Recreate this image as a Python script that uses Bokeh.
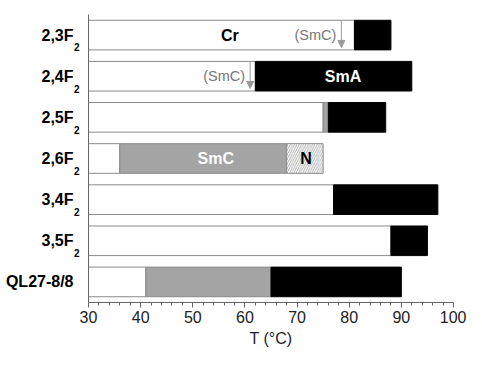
from bokeh.plotting import figure
from bokeh.models import Range1d, FixedTicker, Label, Arrow, NormalHead, LinearAxis, CustomJSTickFormatter
from bokeh.embed import file_html
from bokeh.resources import INLINE

# ---- data ----
compound_base = ["2,3F", "2,4F", "2,5F", "2,6F", "3,4F", "3,5F", "QL27-8/8"]
compound_sub = ["2", "2", "2", "2", "2", "2", ""]
rows = list(range(len(compound_base)))
t_start = 30
melt_T = [81, 62, 75, 36, 77, 88, 41]          # Cr -> next phase
smc_rows = [2, 3, 6]
smc_start = [75, 36, 41]
smc_end = [76, 68, 65]
sma_rows = [0, 1, 2, 4, 5, 6]
sma_start = [81, 62, 76, 77, 88, 65]
sma_end = [88, 92, 87, 97, 95, 90]
n_rows = [3]
n_start = [68]
n_end = [75]
mono_rows = [0, 1]                              # monotropic SmC (arrows)
mono_T = [78.5, 61]
x_ticks = [30, 40, 50, 60, 70, 80, 90, 100]
x_minor = list(range(30, 101, 2))

FONT = "Liberation Sans"
EDGE = "#8a8a8a"
AX = "#666666"
BAR_H = 0.72
SUB_SHIFT = 0.3

p = figure(width=466, height=349, x_range=Range1d(30, 100), y_range=Range1d(6.5, -0.5),
           output_backend="svg", toolbar_location=None,
           min_border_left=88, min_border_right=13, min_border_top=14, min_border_bottom=0)
p.outline_line_color = None
p.xgrid.visible = False
p.ygrid.visible = False
p.background_fill_color = "white"

# bars
p.hbar(y=rows, left=[t_start] * len(rows), right=melt_T, height=BAR_H,
       fill_color="white", line_color=EDGE, line_width=1)
p.hbar(y=smc_rows, left=smc_start, right=smc_end, height=BAR_H,
       fill_color="#a4a4a4", line_color=EDGE, line_width=1)
p.hbar(y=sma_rows, left=sma_start, right=sma_end, height=BAR_H,
       fill_color="black", line_color="black", line_width=1)
p.hbar(y=n_rows, left=n_start, right=n_end, height=BAR_H,
       fill_color="white", line_color=EDGE, line_width=1,
       hatch_pattern="/", hatch_color="#9a9a9a", hatch_scale=4.5, hatch_weight=0.8)

# monotropic SmC arrows + labels
for r, t in zip(mono_rows, mono_T):
    p.add_layout(Arrow(x_start=t, y_start=r - BAR_H / 2, x_end=t, y_end=r + 0.3,
                       line_color="#9a9a9a", line_width=1,
                       end=NormalHead(size=7, fill_color="#9a9a9a", line_color="#9a9a9a")))
    p.add_layout(Label(x=t, y=r, x_offset=-5, text="(SmC)", text_align="right",
                       text_baseline="middle", text_font=FONT, text_font_size="14.5px",
                       text_color="#777777"))

# phase names
phase_labels = [("Cr", 57.1, 0, "black"), ("SmA", 78.8, 1, "white"),
                ("SmC", 54.4, 3, "white"), ("N", 71.7, 3, "black")]
for txt, x, r, c in phase_labels:
    p.add_layout(Label(x=x, y=r, text=txt, text_align="center", text_baseline="middle",
                       text_font=FONT, text_font_size="16px", text_font_style="bold",
                       text_color=c))

# inner left axis: subscripts (placed slightly below each row centre)
sub_ticks = [r + SUB_SHIFT for r, s in zip(rows, compound_sub) if s]
ya = p.yaxis[0]
ya.ticker = FixedTicker(ticks=sub_ticks)
ya.formatter = CustomJSTickFormatter(code="return '2'")
ya.major_tick_line_color = None
ya.minor_tick_line_color = None
ya.major_tick_out = 0
ya.major_tick_in = 0
ya.minor_tick_out = 0
ya.minor_tick_in = 0
ya.major_label_text_font = FONT
ya.major_label_text_font_size = "10px"
ya.major_label_text_font_style = "bold"
ya.major_label_text_color = "black"
ya.major_label_text_align = "right"
ya.major_label_standoff = 9
ya.axis_line_color = AX

# outer left axis: compound names
name_axis = LinearAxis(ticker=FixedTicker(ticks=rows),
                       major_label_overrides={r: n for r, n in zip(rows, compound_base)})
name_axis.major_tick_line_color = None
name_axis.minor_tick_line_color = None
name_axis.major_tick_out = 0
name_axis.major_tick_in = 0
name_axis.minor_tick_out = 0
name_axis.minor_tick_in = 0
name_axis.axis_line_color = None
name_axis.major_label_text_font = FONT
name_axis.major_label_text_font_size = "16px"
name_axis.major_label_text_font_style = "bold"
name_axis.major_label_text_color = "black"
name_axis.major_label_text_align = "right"
name_axis.major_label_standoff = -3
p.add_layout(name_axis, "left")

# x axis
xa = p.xaxis[0]
xa.ticker = FixedTicker(ticks=x_ticks, minor_ticks=x_minor)
xa.major_tick_out = 5
xa.major_tick_in = 0
xa.minor_tick_out = 3
xa.minor_tick_in = 0
xa.axis_line_color = AX
xa.major_tick_line_color = AX
xa.minor_tick_line_color = AX
xa.major_label_text_font = FONT
xa.major_label_text_font_size = "16px"
xa.major_label_text_color = "#222222"
xa.major_label_standoff = 3
xa.axis_label = "T (°C)"
xa.axis_label_text_font = FONT
xa.axis_label_text_font_size = "16px"
xa.axis_label_text_font_style = "normal"
xa.axis_label_text_color = "#222222"
xa.axis_label_standoff = 4

open("out.html", "w").write(file_html(p, INLINE))
